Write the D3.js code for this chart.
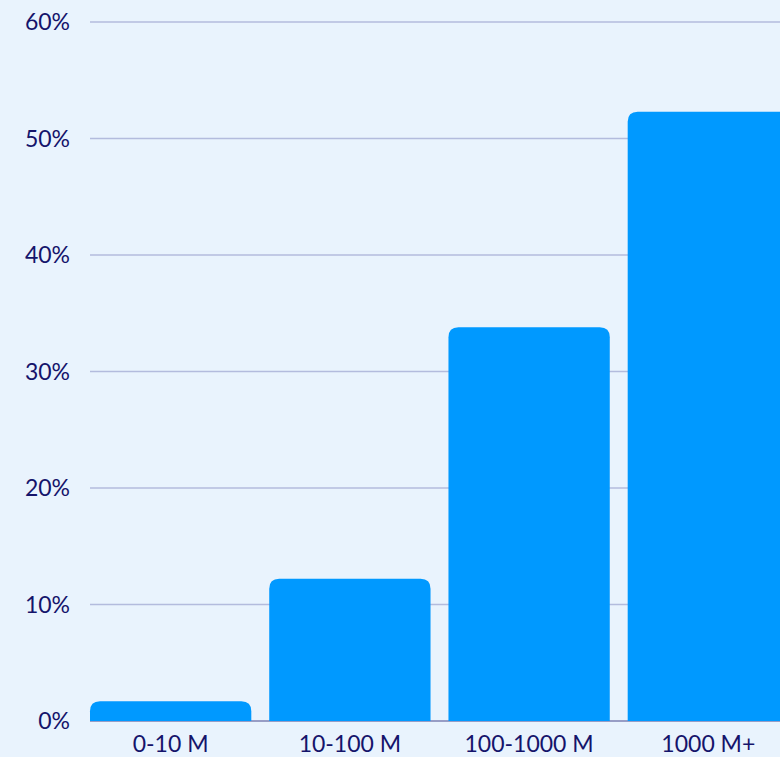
<!DOCTYPE html>
<html>
<head>
<meta charset="utf-8">
<script src="https://cdn.jsdelivr.net/npm/d3@7"></script>
<style>
  html, body { margin: 0; padding: 0; background: #e9f3fd; }
  svg { display: block; }
  text { font-family: Lato, "Open Sans", sans-serif; fill: #15146b; }
</style>
</head>
<body>
<div id="chart"></div>
<script>
// chart data
var categories = ["0-10 M", "10-100 M", "100-1000 M", "1000 M+"];
var shares = [1.7, 12.2, 33.8, 52.3];
var yTicks = [0, 10, 20, 30, 40, 50, 60];

var width = 780;
var height = 757;

var margin = {
  top: 22,
  bottom: 36,
  left: 90
};

var svg = d3.select("#chart").append("svg")
    .attr("width", width)
    .attr("height", height);

var x = d3.scaleBand()
    .domain(categories)
    .range([margin.left, 789])
    .paddingInner(0.1)
    .paddingOuter(0);

var y = d3.scaleLinear()
    .domain([0, 60])
    .range([height - margin.bottom, margin.top]);

// gridlines
svg.selectAll(".grid")
    .data(yTicks)
  .enter().append("line")
    .attr("class", "grid")
    .attr("x1", margin.left)
    .attr("x2", width)
    .attr("y1", function(d) { return y(d); })
    .attr("y2", function(d) { return y(d); })
    .style("stroke", function(d) { return d == 0 ? "#7c80b2" : "#b3bbdd"; })
    .style("stroke-width", 1.5);

// y labels
svg.selectAll(".ylab")
    .data(yTicks)
  .enter().append("text")
    .attr("class", "ylab")
    .attr("x", 70)
    .attr("y", function(d) { return y(d); })
    .attr("dy", "0.35em")
    .attr("text-anchor", "end")
    .style("font-size", "23px")
    .text(function(d) { return d + "%"; });

// bars with rounded tops
var r = 10;
function barPath(d, i) {
  var x0 = x(categories[i]);
  var x1 = x0 + x.bandwidth();
  var y0 = y(0);
  var y1 = y(d);
  var rr = Math.min(r, (y0 - y1));
  return "M" + x0 + "," + y0 +
    "V" + (y1 + rr) +
    "Q" + x0 + "," + y1 + " " + (x0 + rr) + "," + y1 +
    "H" + (x1 - rr) +
    "Q" + x1 + "," + y1 + " " + x1 + "," + (y1 + rr) +
    "V" + y0 + "Z";
}

svg.selectAll(".bar")
    .data(shares)
  .enter().append("path")
    .attr("class", "bar")
    .attr("d", barPath)
    .style("fill", "#0099ff");

// x labels
svg.selectAll(".xlab")
    .data(categories)
  .enter().append("text")
    .attr("class", "xlab")
    .attr("x", function(d) { return x(d) + x.bandwidth() / 2; })
    .attr("y", 744)
    .attr("dy", "0.35em")
    .attr("text-anchor", "middle")
    .style("font-size", "23px")
    .text(function(d) { return d; });
</script>
</body>
</html>
